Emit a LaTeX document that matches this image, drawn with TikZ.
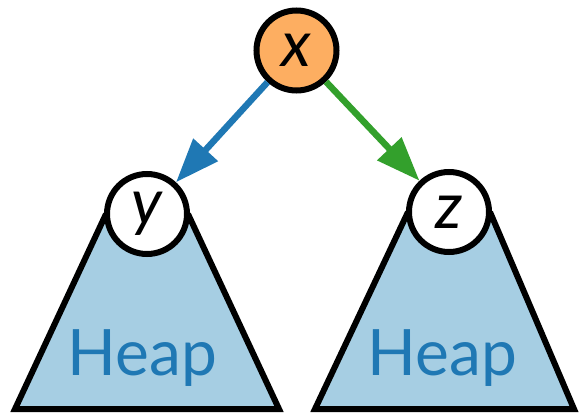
\documentclass[tikz,border=0pt]{standalone}
\usepackage{fontspec}
\setmainfont{Lato}
\usetikzlibrary{arrows.meta}
\definecolor{nodeorange}{HTML}{FDAE61}
\definecolor{heapfill}{HTML}{A6CEE3}
\definecolor{heapblue}{HTML}{1F78B4}
\definecolor{edgegreen}{HTML}{33A02C}
\begin{document}
\begin{tikzpicture}[x=1pt,y=-1pt,
  keynode/.style={circle,draw=black,line width=6pt,minimum size=80pt,inner sep=0pt,
    font=\fontsize{64}{64}\selectfont\itshape},
  heapshape/.style={draw=black,fill=heapfill,line width=6pt,line join=miter},
  heaplabel/.style={anchor=base,inner sep=0pt,text=heapblue,font=\fontsize{64}{64}\selectfont},
  edge/.style={line width=6.5pt,-{Triangle[length=44pt,width=32pt]}}]
\useasboundingbox (0,0) rectangle (582,417);
\fill[white] (0,0) rectangle (582,417);
% left heap
\coordinate (l1) at (106,214);
\coordinate (l2) at (15,409);
\coordinate (l3) at (279,409);
\coordinate (l4) at (188,214);
\draw[heapshape] (l1) -- (l2) -- (l3) -- (l4);
% right heap
\coordinate (r1) at (408,212);
\coordinate (r2) at (315,409);
\coordinate (r3) at (574,409);
\coordinate (r4) at (490,212);
\draw[heapshape] (r1) -- (r2) -- (r3) -- (r4);
\node[heaplabel] (h1) at (142.5,375) {Heap};
\node[heaplabel] (h2) at (442.5,375) {Heap};
% key nodes
\node[keynode,fill=nodeorange] (x) at (296.5,50.5) {x};
\node[keynode,fill=white] (y) at (147,214) {y};
\node[keynode,fill=white] (z) at (449,212) {z};
% edges
\draw[edge,heapblue] (x) -- (y);
\draw[edge,edgegreen] (x) -- (z);
\end{tikzpicture}
\end{document}
